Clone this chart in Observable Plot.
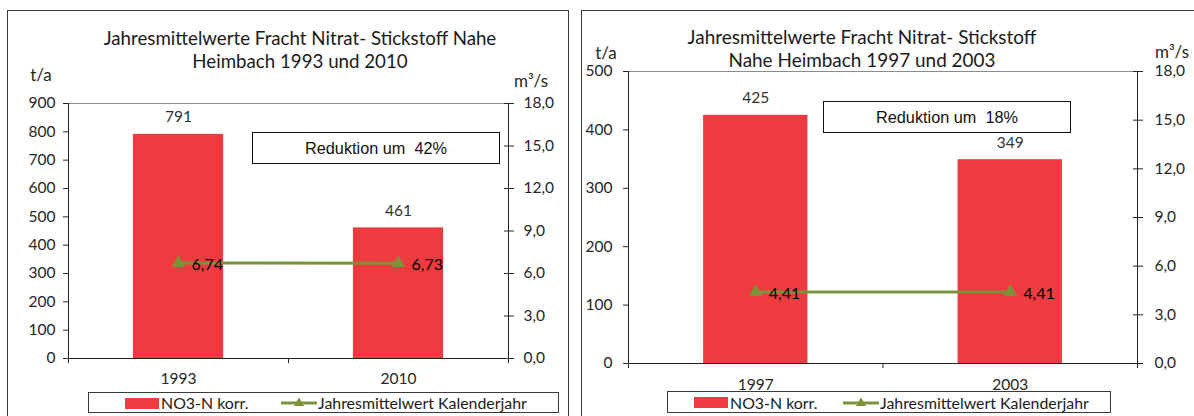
<!DOCTYPE html>
<html><head><meta charset="utf-8">
<script src="https://cdn.jsdelivr.net/npm/d3@7"></script>
<script src="https://cdn.jsdelivr.net/npm/@observablehq/plot@0.6"></script>
<style>
html,body{margin:0;padding:0;background:#fff;}
body{width:1194px;height:416px;overflow:hidden;position:relative;font-family:Lato,sans-serif;color:#262626;}
.abs{position:absolute;white-space:nowrap;}
.panel{position:absolute;border:1px solid #3a3a3a;box-sizing:border-box;}
.box{position:absolute;border:1.5px solid #111;box-sizing:border-box;display:flex;align-items:center;justify-content:center;font-family:"Liberation Sans",Arial,sans-serif;color:#111;white-space:pre;}
.legend{position:absolute;border:1px solid #3a3a3a;box-sizing:border-box;background:#fff;}
</style></head><body>
<script>
// ---------- data ----------
const yearsA = ["1993", "2010"];
const loadA = [791, 461];          // t/a, NO3-N korr.
const flowA = [6.74, 6.73];        // m³/s, Jahresmittelwert Kalenderjahr
const yearsB = ["1997", "2003"];
const loadB = [425, 349];
const flowB = [4.41, 4.41];
const leftTicksA = [0, 100, 200, 300, 400, 500, 600, 700, 800, 900];
const leftTicksB = [0, 100, 200, 300, 400, 500];
const rightTicks = [0, 3, 6, 9, 12, 15, 18];
const flowMax = 18;
const titleA = ["Jahresmittelwerte Fracht Nitrat- Stickstoff Nahe", "Heimbach 1993 und 2010"];
const titleB = ["Jahresmittelwerte Fracht Nitrat- Stickstoff", "Nahe Heimbach 1997 und 2003"];
const noteA = "Reduktion um  42%";
const noteB = "Reduktion um  18%";
const seriesNames = ["NO3-N korr.", "Jahresmittelwert Kalenderjahr"];
const unitLeft = "t/a", unitRight = "m³/s";

// ---------- styles ----------
const RED = "#EE3B40", OLIVE = "#7A9339";
const TICKFONT = "Lato, sans-serif";
const FS = 15.5;
const ctx = document.createElement("canvas").getContext("2d");
function fitSize(text, family, target) { ctx.font = `100px ${family}`; return 100 * target / ctx.measureText(text).width; }
const fmt1 = v => v.toFixed(1).replace(".", ",");
const fmt2 = v => v.toFixed(2).replace(".", ",");

function add(html, cls, style) {
  const el = document.createElement("div");
  el.className = cls; el.innerHTML = html;
  Object.assign(el.style, style);
  document.body.appendChild(el);
  return el;
}

function chart({years, load, flow, yMax, yTicks, width, height, mt, mr, mb, ml, padL, padR, padX}) {
  const k = yMax / flowMax;
  const rows = years.map((year, i) => ({year, pos: i + 0.5, load: load[i], flow: flow[i], flowY: flow[i] * k}));
  const half = 0.205;
  return Plot.plot({
    width, height, marginTop: mt, marginRight: mr, marginBottom: mb, marginLeft: ml,
    style: {fontFamily: TICKFONT, fontSize: FS + "px", color: "#262626", background: "transparent", overflow: "visible"},
    x: {type: "linear", domain: [0, years.length], axis: null, label: null},
    y: {domain: [0, yMax], axis: null, label: null},
    marks: [
      Plot.rectY(rows, {x1: d => d.pos - half, x2: d => d.pos + half, y1: 0, y2: "load", fill: RED}),
      Plot.ruleY([yMax], {stroke: "#8c8c8c"}),
      Plot.ruleY([0], {stroke: "#222"}),
      Plot.ruleX([0], {stroke: "#222"}),
      Plot.ruleX([years.length], {stroke: "#222"}),
      Plot.axisY({anchor: "left", ticks: yTicks, tickSize: 5, tickPadding: padL, tickFormat: d => String(d), label: null, fontSize: FS}),
      Plot.axisY({anchor: "right", ticks: rightTicks.map(v => v * k), tickSize: 10, dx: -5, fill: "none", label: null}),
      Plot.axisY({anchor: "right", ticks: rightTicks.map(v => v * k), tickSize: 0, tickPadding: padR, tickFormat: v => fmt1(v / k), label: null, fontSize: FS}),
      Plot.axisX({ticks: d3.range(0, years.length + 1), tickSize: 5, fill: "none", label: null}),
      Plot.axisX({ticks: rows.map(d => d.pos), tickSize: 0, tickPadding: padX, tickFormat: p => years[Math.floor(p)], label: null, fontSize: FS}),
      Plot.text(rows, {x: "pos", y: "load", text: d => String(d.load), dy: -17, fill: "#333", fontSize: FS}),
      Plot.line(rows, {x: "pos", y: "flowY", stroke: OLIVE, strokeWidth: 3}),
      Plot.dot(rows, {x: "pos", y: "flowY", symbol: "triangle", r: 5, fill: OLIVE}),
      Plot.text(rows, {x: "pos", y: "flowY", text: d => fmt2(d.flow), dx: 13, dy: 2, textAnchor: "start", fill: "#000", fontSize: 16})
    ]
  });
}

function panel(cfg) {
  add("", "panel", {left: cfg.bx + "px", top: "10px", width: cfg.bw + "px", height: "430px"});
  const svg = chart(cfg);
  svg.style.position = "absolute"; svg.style.left = cfg.bx + "px"; svg.style.top = "10px";
  document.body.appendChild(svg);
  // title
  const tf = "Lato, sans-serif";
  const ts = fitSize(cfg.title[0], tf, cfg.titleW);
  cfg.title.forEach((t, i) => {
    add(t, "abs", {left: (cfg.titleCx - 300) + "px", width: "600px", textAlign: "center",
      top: (cfg.titleY[i] - 12) + "px", height: "24px", lineHeight: "24px", fontSize: ts + "px", color: "#1a1a1a"});
  });
  // units
  add(unitLeft, "abs", {left: (cfg.uL[0] - 40) + "px", width: "80px", textAlign: "center", top: (cfg.uL[1] - 8) + "px", lineHeight: "16px", height: "16px", fontSize: "17px"});
  add(unitRight, "abs", {left: (cfg.uR[0] - 40) + "px", width: "80px", textAlign: "center", top: (cfg.uR[1] - 8) + "px", lineHeight: "16px", height: "16px", fontSize: "17px"});
  // note box
  const nf = "'Liberation Sans', Arial, sans-serif";
  add(cfg.note, "box", {left: cfg.note_xy[0] + "px", top: cfg.note_xy[1] + "px", width: "248px", height: "32px", fontSize: fitSize(cfg.note, nf, 142) + "px"});
  // legend
  const L = cfg.leg;
  add("", "legend", {left: L.x + "px", top: L.y + "px", width: L.w + "px", height: L.h + "px"});
  add("", "abs", {left: L.sw + "px", top: (L.cy - 5.5) + "px", width: "34px", height: "11px", background: RED});
  const lf = "Lato, sans-serif";
  const ls = fitSize(seriesNames[1], lf, 209);
  add(seriesNames[0], "abs", {left: (L.sw + 36) + "px", top: (L.cy - 11) + "px", lineHeight: "22px", fontSize: ls + "px", color: "#1a1a1a"});
  add(`<svg width="36" height="14"><line x1="0" x2="36" y1="7" y2="7" stroke="${OLIVE}" stroke-width="3"/><path d="M18,1.5L23,10L13,10Z" fill="${OLIVE}"/></svg>`,
      "abs", {left: L.ln + "px", top: (L.cy - 7) + "px", height: "14px", lineHeight: "0"});
  add(seriesNames[1], "abs", {left: (L.ln + 37) + "px", top: (L.cy - 11) + "px", lineHeight: "22px", fontSize: ls + "px", color: "#1a1a1a"});
}

panel({years: yearsA, load: loadA, flow: flowA, yMax: 900, yTicks: leftTicksA,
  bx: 7, bw: 562, width: 561, height: 406, mt: 93, mr: 60, mb: 58, ml: 61, padL: 8, padR: 15, padX: 14,
  title: titleA, titleCx: 300, titleY: [38, 61], titleW: 393,
  uL: [41, 75], uR: [531, 81], note: noteA, note_xy: [252, 132],
  leg: {x: 88, y: 392, w: 471, h: 21, cy: 403, sw: 125, ln: 281}});
panel({years: yearsB, load: loadB, flow: flowB, yMax: 500, yTicks: leftTicksB,
  bx: 581, bw: 700, width: 613, height: 406, mt: 61, mr: 57, mb: 53, ml: 47, padL: 11, padR: 17, padX: 15,
  title: titleB, titleCx: 862, titleY: [37, 60], titleW: 349,
  uL: [606, 53], uR: [1172, 52], note: noteB, note_xy: [823, 101],
  leg: {x: 667, y: 391, w: 444, h: 22, cy: 402.5, sw: 694, ln: 843}});
</script>
</body></html>
